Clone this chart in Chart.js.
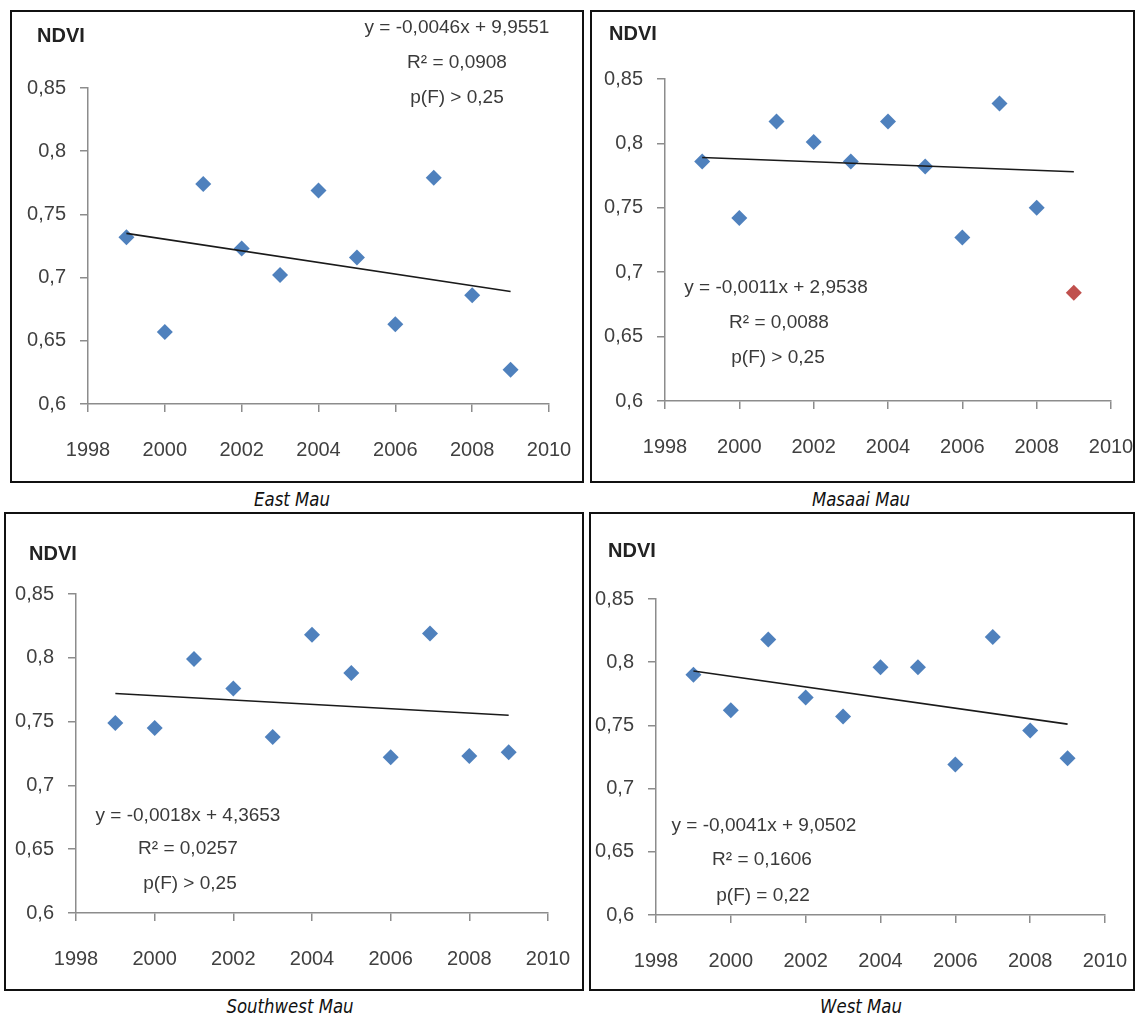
<!DOCTYPE html>
<html>
<head>
<meta charset="utf-8">
<script src="https://cdn.jsdelivr.net/npm/chart.js@4.4.1/dist/chart.umd.min.js"></script>
<style>
  body { margin: 0; background: #fff; width: 1136px; height: 1017px; position: relative; overflow: hidden;
         font-family: "Liberation Sans", Arial, sans-serif; }
  canvas { position: absolute; }
  .moldura { position: absolute; box-sizing: border-box; border: 2px solid #111; pointer-events: none; }
  .txt { position: absolute; white-space: nowrap; transform: translate(-50%, -50%); color: #3a3a3a; font-size: 19px; }
  .ndvi { font-weight: bold; color: #222; font-size: 20px; }
  .legenda { font-family: "DejaVu Sans Condensed", "DejaVu Sans", sans-serif; font-style: italic; font-size: 20px;
             color: #111; transform: translate(-50%, -50%) scaleX(0.92); }
</style>
</head>
<body>
<script>
// NDVI por ano nas quatro áreas da floresta Mau

const anos          = [1999, 2000, 2001, 2002, 2003, 2004, 2005, 2006, 2007, 2008, 2009];
const anosTendencia = [1999, 2009];
const anoAtipico    = [2009];
const ticksX        = [1998, 2000, 2002, 2004, 2006, 2008, 2010];
const ticksY        = [0.6, 0.65, 0.7, 0.75, 0.8, 0.85];

const eastMau        = [0.732, 0.657, 0.774, 0.723, 0.702, 0.769, 0.716, 0.663, 0.779, 0.686, 0.627];
const eastTendencia  = [0.735, 0.689];

const masaaiMau       = [0.786, 0.742, 0.817, 0.801, 0.786, 0.817, 0.782, 0.727, 0.831, 0.750];
const masaaiAtipico   = [0.684];
const masaaiTendencia = [0.789, 0.778];

const southwestMau       = [0.749, 0.745, 0.799, 0.776, 0.738, 0.818, 0.788, 0.722, 0.819, 0.723, 0.726];
const southwestTendencia = [0.772, 0.755];

const westMau       = [0.790, 0.762, 0.818, 0.772, 0.757, 0.796, 0.796, 0.719, 0.820, 0.746, 0.724];
const westTendencia = [0.793, 0.751];

const azul     = '#4f81bd';
const vermelho = '#c0504d';
const eixo     = '#8c8c8c';

// caixa = moldura do painel, area = área de plotagem (coordenadas da página)
const paineis = [
  { nome: 'East Mau', caixa: [10, 10, 584, 483], area: [88, 88, 549, 404],
    valores: eastMau, tendencia: eastTendencia,
    ndvi: [61, 35], legenda: [292, 499],
    texto: [[457, 27, 'y = -0,0046x + 9,9551'], [457, 62, 'R² = 0,0908'], [457, 97, 'p(F) > 0,25']] },
  { nome: 'Masaai Mau', caixa: [590, 10, 1135, 483], area: [665, 79, 1111, 401],
    valores: masaaiMau, atipico: masaaiAtipico, tendencia: masaaiTendencia,
    ndvi: [633, 33], legenda: [861, 499],
    texto: [[776, 287, 'y = -0,0011x + 2,9538'], [779, 322, 'R² = 0,0088'], [778, 357, 'p(F) > 0,25']] },
  { nome: 'Southwest Mau', caixa: [4, 512, 584, 991], area: [76, 594, 548, 913],
    valores: southwestMau, tendencia: southwestTendencia,
    ndvi: [53, 553], legenda: [290, 1006],
    texto: [[188, 815, 'y = -0,0018x + 4,3653'], [188, 848, 'R² = 0,0257'], [190, 883, 'p(F) > 0,25']] },
  { nome: 'West Mau', caixa: [589, 512, 1135, 991], area: [656, 599, 1105, 915],
    valores: westMau, tendencia: westTendencia,
    ndvi: [632, 550], legenda: [861, 1006],
    texto: [[764, 825, 'y = -0,0041x + 9,0502'], [762, 859, 'R² = 0,1606'], [763, 895, 'p(F) = 0,22']] },
];

const xy = (xs, ys) => ys.map((y, i) => ({ x: xs[i], y }));
const fmtY = (v) => String(Math.round(v * 100) / 100).replace('.', ',');

function texto(classe, x, y, conteudo) {
  const el = document.createElement('div');
  el.className = 'txt ' + classe;
  el.style.left = x + 'px';
  el.style.top = y + 'px';
  el.textContent = conteudo;
  document.body.appendChild(el);
}

function desenhar(p) {
  const [bx0, by0, bx1, by1] = p.caixa;
  const [ax0, ay0, ax1, ay1] = p.area;
  const w = bx1 - bx0, h = by1 - by0;

  const cv = document.createElement('canvas');
  cv.width = w; cv.height = h;
  cv.style.cssText = `left:${bx0}px;top:${by0}px;width:${w}px;height:${h}px`;
  document.body.appendChild(cv);

  const moldura = document.createElement('div');
  moldura.className = 'moldura';
  moldura.style.cssText = `left:${bx0}px;top:${by0}px;width:${w}px;height:${h}px`;
  document.body.appendChild(moldura);

  const datasets = [
    { data: xy(anosTendencia, p.tendencia), showLine: true, borderColor: '#1a1a1a', borderWidth: 1.6,
      pointRadius: 0, order: 0 },
    { data: xy(anos, p.valores), pointStyle: 'rectRot', pointRadius: 8,
      backgroundColor: azul, borderColor: azul, borderWidth: 0, order: 1 },
  ];
  if (p.atipico) {
    datasets.push({ data: xy(anoAtipico, p.atipico), pointStyle: 'rectRot', pointRadius: 8,
      backgroundColor: vermelho, borderColor: vermelho, borderWidth: 0, order: 1 });
  }

  const fonte = { family: '"Liberation Sans", Arial, sans-serif', size: 20 };
  const grade = { drawOnChartArea: false, tickLength: 8, color: eixo, lineWidth: 1.5 };

  // as margens da área de plotagem vêm só de layout.padding e do afterFit
  const semPadding = (s) => { s.paddingLeft = s.paddingRight = s.paddingTop = s.paddingBottom = 0; };

  new Chart(cv, {
    type: 'scatter',
    data: { datasets },
    options: {
      responsive: false,
      animation: false,
      events: [],
      layout: { padding: { top: ay0 - by0, right: bx1 - ax1, left: 0, bottom: 0 } },
      plugins: { legend: { display: false }, tooltip: { enabled: false } },
      scales: {
        x: {
          type: 'linear', min: ticksX[0], max: ticksX[ticksX.length - 1],
          afterBuildTicks: (s) => { s.ticks = ticksX.map((v) => ({ value: v })); },
          afterFit: (s) => { s.height = by1 - ay1; semPadding(s); },
          ticks: { callback: (v) => String(v), font: fonte, color: '#404040', padding: 26,
                   maxRotation: 0, autoSkip: false },
          grid: grade,
          border: { color: eixo, width: 1.5 },
        },
        y: {
          type: 'linear', min: ticksY[0], max: ticksY[ticksY.length - 1],
          afterBuildTicks: (s) => { s.ticks = ticksY.map((v) => ({ value: v })); },
          afterFit: (s) => { s.width = ax0 - bx0; semPadding(s); },
          ticks: { callback: (v) => fmtY(v), font: fonte, color: '#404040', padding: 14, autoSkip: false },
          grid: grade,
          border: { color: eixo, width: 1.5 },
        },
      },
    },
  });

  texto('ndvi', p.ndvi[0], p.ndvi[1], 'NDVI');
  p.texto.forEach(([x, y, t]) => texto('', x, y, t));
  texto('legenda', p.legenda[0], p.legenda[1], p.nome);
}

paineis.forEach(desenhar);
</script>
</body>
</html>
